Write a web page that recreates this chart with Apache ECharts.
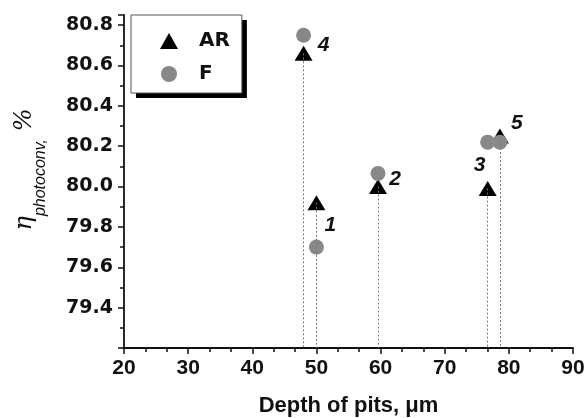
<!DOCTYPE html>
<html lang="en">
<head>
    <meta charset="UTF-8">
    <title>Depth of pits</title>
    <script src="https://cdn.jsdelivr.net/npm/echarts@6/dist/echarts.min.js"></script>
    <style>
        html, body {margin: 0; padding: 0; background: #fff;}
        #main {width: 587px; height: 418px;}
    </style>
</head>
<body>
<div id="main"></div>
<script type="text/javascript">
    // sample numbers and values
    var sampleNames = ['1', '2', '3', '4', '5'];
    var depthArr = [50, 59.6, 76.7, 48, 78.6];
    var arArr = [79.92, 80.0, 79.99, 80.66, 80.25];
    var fArr = [79.70, 80.065, 80.22, 80.75, 80.22];
    var yTicks = [79.4, 79.6, 79.8, 80.0, 80.2, 80.4, 80.6, 80.8];
    // label placement next to the triangles
    var labelOffsets = [[14, 23], [17, -7], [-8, -23], [20, -8], [17, -13]];

    var yMin = 79.2;
    var axisColor = '#111';
    var font = 'Liberation Sans, Arial, sans-serif';

    var arData = [];
    var fData = [];
    var dropLines = [];
    for (var i = 0; i < depthArr.length; i++) {
        arData.push({
            value: [depthArr[i], arArr[i]],
            label: {
                show: true,
                formatter: sampleNames[i],
                position: 'inside',
                offset: labelOffsets[i],
                color: '#111',
                fontFamily: font,
                fontWeight: 'bold',
                fontStyle: 'italic',
                fontSize: 21
            }
        });
        fData.push([depthArr[i], fArr[i]]);
        dropLines.push([{coord: [depthArr[i], arArr[i]]}, {coord: [depthArr[i], yMin]}]);
    }

    // legend box: the first one carries the fill and its shadow, the second only the border
    var legendBase = {
        left: 131,
        top: 15,
        orient: 'vertical',
        data: ['AR', 'F'],
        padding: [16, 12, 9, 29],
        itemWidth: 18,
        itemHeight: 16,
        itemGap: 13,
        selectedMode: false
    };
    var legendText = {
        fontFamily: 'DejaVu Sans, sans-serif',
        fontWeight: 'bold',
        fontSize: 20,
        color: '#111',
        padding: [0, 0, 0, 16]
    };
    var legendFill = echarts.util.extend({
        backgroundColor: '#fff',
        borderWidth: 0,
        shadowColor: '#000',
        shadowBlur: 0,
        shadowOffsetX: 5,
        shadowOffsetY: 5,
        textStyle: legendText
    }, legendBase);
    var legendBorder = echarts.util.extend({
        backgroundColor: 'transparent',
        borderColor: '#555',
        borderWidth: 1,
        itemStyle: {opacity: 0},
        textStyle: echarts.util.extend(echarts.util.clone(legendText), {color: 'transparent'})
    }, legendBase);

    var myChart = echarts.init(document.getElementById('main'));
    var option = {
        animation: false,
        backgroundColor: '#fff',
        grid: {left: 124, right: 14, top: 15, bottom: 70, outerBoundsMode: 'none'},
        legend: [legendFill, legendBorder],
        xAxis: {
            type: 'value',
            min: 20,
            max: 90,
            interval: 10,
            name: 'Depth of pits, \u03bcm',
            nameLocation: 'middle',
            nameGap: 47,
            nameTextStyle: {fontFamily: font, fontWeight: 'bold', fontSize: 22, color: '#111'},
            splitLine: {show: false},
            axisLine: {lineStyle: {color: axisColor, width: 1.8}},
            axisTick: {inside: false, length: 6, lineStyle: {color: axisColor, width: 1.5}},
            minorTick: {show: true, splitNumber: 3, length: 4, lineStyle: {color: axisColor, width: 1.5}},
            axisLabel: {fontFamily: font, fontWeight: 'bold', fontSize: 21, color: '#111', margin: 10}
        },
        yAxis: {
            type: 'value',
            min: yMin,
            max: 80.85,
            interval: 0.2,
            name: '{m|\u03b7}{s|photoconv,}{m| %}',
            nameLocation: 'middle',
            nameGap: 75,
            nameTextStyle: {
                padding: [0, 0, 0, 24],
                rich: {
                    m: {fontFamily: 'DejaVu Serif, serif', fontStyle: 'italic', fontSize: 24, color: '#111', lineHeight: 36, verticalAlign: 'top'},
                    s: {fontFamily: font, fontStyle: 'italic', fontSize: 16, color: '#111', lineHeight: 36, verticalAlign: 'bottom'}
                }
            },
            splitLine: {show: false},
            axisLine: {lineStyle: {color: axisColor, width: 1.8}},
            axisTick: {inside: false, length: 6, lineStyle: {color: axisColor, width: 1.5}},
            minorTick: {show: true, splitNumber: 2, length: 4, lineStyle: {color: axisColor, width: 1.5}},
            axisLabel: {
                fontFamily: 'DejaVu Sans, sans-serif',
                fontWeight: 'bold',
                fontSize: 19,
                color: '#111',
                margin: 11,
                formatter: function (v) {
                    for (var k = 0; k < yTicks.length; k++) {
                        if (Math.abs(yTicks[k] - v) < 1e-6) return yTicks[k].toFixed(1);
                    }
                    return '';
                }
            }
        },
        series: [
            {
                name: 'AR',
                type: 'scatter',
                symbol: 'triangle',
                symbolSize: [18, 15],
                itemStyle: {color: '#000', opacity: 1},
                data: arData,
                markLine: {
                    silent: true,
                    symbol: 'none',
                    label: {show: false},
                    lineStyle: {color: '#777', type: [2, 2], width: 1},
                    data: dropLines
                },
                z: 3
            },
            {
                name: 'F',
                type: 'scatter',
                symbol: 'circle',
                symbolSize: 15,
                itemStyle: {color: '#888', opacity: 1},
                data: fData,
                z: 4
            }
        ]
    };
    myChart.setOption(option);
</script>
</body>
</html>
